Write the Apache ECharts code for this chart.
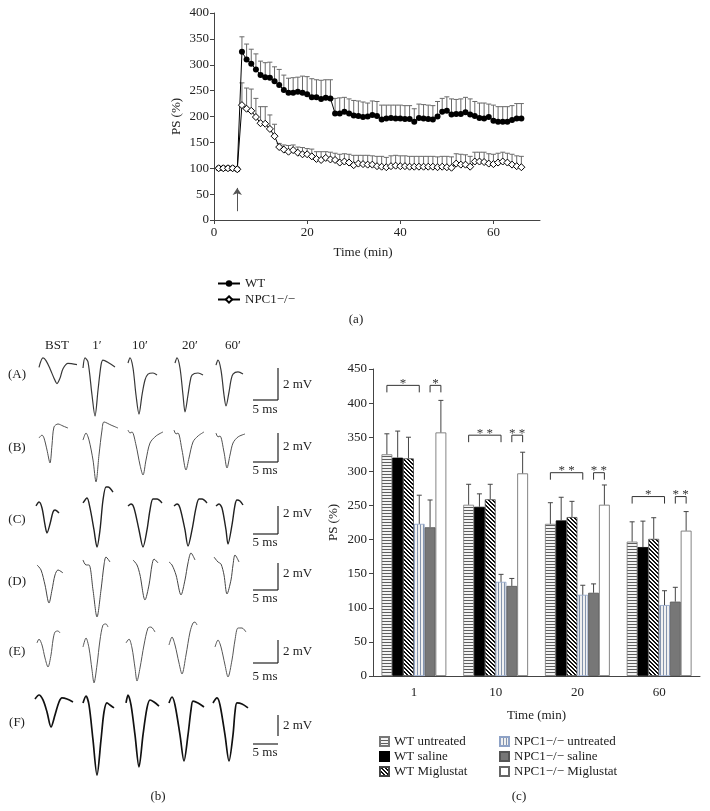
<!DOCTYPE html>
<html>
<head>
<meta charset="utf-8">
<title>PS recordings</title>
<script src="https://cdn.jsdelivr.net/npm/echarts@6/dist/echarts.min.js"></script>
<style>
  html, body { margin: 0; padding: 0; background: #fff; }
  #chart { width: 710px; height: 811px; }
</style>
</head>
<body>
<div id="chart"></div>
<script>
  // ---- (a) time course ----
  var timeMin = [1,2,3,4,5,6,7,8,9,10,11,12,13,14,15,16,17,18,19,20,21,22,23,24,25,26,27,28,29,30,31,32,33,
    34,35,36,37,38,39,40,41,42,43,44,45,46,47,48,49,50,51,52,53,54,55,56,57,58,59,60,61,62,63,64,65,66];
  var wtMean = [100,100,100,100,98,325,310,302,291,280,276,275,268,261,251,246,246,248,246,243,237,237,234,236,235,
    206,206,209,206,202,201,199,200,203,201,194,196,197,196,196,195,195,190,197,196,195,194,200,209,211,204,205,205,
    208,204,201,197,196,199,192,190,190,190,193,196,196];
  var wtErrTop = [null,null,null,null,null,354,340,330,321,307,304,305,296,291,280,274,275,276,278,277,273,271,270,271,271,
    235,236,237,234,231,230,228,226,230,229,222,222,222,222,222,221,221,215,224,223,222,221,229,235,238,234,233,234,
    237,234,229,226,226,224,222,219,219,219,221,225,225];
  var npcMean = [100,100,100,100,98,222,215,211,199,187,186,176,162,141,136,132,135,130,127,127,123,118,116,120,117,
    116,111,113,111,106,109,108,107,107,104,103,102,104,105,104,104,103,103,103,103,103,103,102,103,102,101,109,107,
    107,103,113,113,112,109,108,111,113,111,107,104,102];
  var npcErrTop = [null,null,null,null,null,265,255,253,235,219,219,203,185,148,145,144,145,141,140,138,137,132,132,132,131,
    129,127,128,127,125,125,125,125,124,123,123,121,124,125,124,124,123,123,123,123,123,123,122,123,123,122,128,127,
    126,123,131,131,131,128,127,129,131,129,127,124,123];
  var stimTime = 5;

  // ---- (c) bar chart ----
  var barCats = ['1', '10', '20', '60'];
  var barNames = ['WT untreated', 'WT saline', 'WT Miglustat',
    'NPC1\u2212/\u2212 untreated', 'NPC1\u2212/\u2212 saline', 'NPC1\u2212/\u2212 Miglustat'];
  var wtUntreated = [325, 251, 223, 197];
  var wtSaline = [320, 248, 228, 189];
  var wtMiglustat = [319, 259, 233, 201];
  var npcUntreated = [223, 138, 119, 104];
  var npcSaline = [218, 132, 122, 109];
  var npcMiglustat = [357, 297, 251, 213];
  var wtUntreatedSem = [30, 30, 31, 29];
  var wtSalineSem = [39, 19, 34, 38];
  var wtMiglustatSem = [31, 22, 23, 31];
  var npcUntreatedSem = [42, 11, 14, 21];
  var npcSalineSem = [40, 11, 13, 21];
  var npcMiglustatSem = [47, 31, 29, 28];
  // [category, bar from, bar to, level]
  var sigBrackets = [[0,0,3,426],[0,4,5,426],[1,0,3,353],[1,4,5,353],[2,0,3,298],[2,4,5,298],[3,0,3,263],[3,4,5,263]];
  var sigLabels = ['*', '*', '* *', '* *', '* *', '* *', '*', '* *'];

  // ---- (b) field potential traces, [ms, mV] ----
  var traceCols = ['BST', '1\u2032', '10\u2032', '20\u2032', '60\u2032'];
  var traceRows = ['(A)', '(B)', '(C)', '(D)', '(E)', '(F)'];
  var traceA = [
    [[0.8,-0.1],[1.6,0.6],[2.2,0.4],[3.0,-0.2],[3.8,-0.9],[4.4,-1.3],[5.0,-0.9],[5.6,-0.2],[6.6,0.2],[8.4,0.1]],
    [[0,-0.15],[0.4,0.6],[1.0,0.3],[1.8,-2.15],[2.4,-3.7],[3.0,-1.8],[3.6,0.07],[4.0,0.44],[5.2,0.22],[6.4,-0.07]],
    [[0.4,0.22],[0.8,0.6],[1.4,-0.15],[2.0,-2.15],[2.6,-3.56],[3.2,-2.15],[3.8,-1.04],[4.4,-0.6],[5.4,-0.52],[6.2,-0.67]],
    [[1.2,0.22],[1.6,0.6],[2.2,-0.15],[2.8,-2.15],[3.2,-3.4],[3.8,-2.15],[4.2,-1.2],[4.6,-0.67],[5.8,-0.52],[6.8,-0.67]],
    [[0.6,0.07],[1.0,0.44],[1.6,-0.3],[2.2,-2.15],[2.6,-2.96],[3.2,-1.93],[3.6,-1.04],[4.0,-0.6],[5.0,-0.44],[6.0,-0.6]]
  ];
  var traceB = [
    [[0.8,-0.15],[1.4,0.07],[1.8,-0.15],[2.4,-1.04],[3.0,-2.0],[3.4,-0.67],[3.8,0.67],[4.6,0.89],[5.6,0.74],[6.6,0.59]],
    [[0,-0.3],[0.6,0.22],[1.2,-0.3],[2.0,-1.78],[2.6,-3.4],[3.2,-1.4],[3.8,0.44],[4.2,1.04],[5.6,0.81],[7.0,0.59]],
    [[0.4,0.44],[0.8,0.22],[1.2,0.3],[2.0,-0.67],[2.8,-2.15],[3.4,-2.89],[4.0,-1.78],[4.8,-0.52],[6.0,0],[7.4,0.3]],
    [[1.0,0.44],[1.4,0.15],[1.8,0.22],[2.6,-1.04],[3.4,-2.52],[4.0,-1.63],[4.8,-0.44],[5.8,0],[7.0,0.3]],
    [[0.6,0.22],[1.0,-0.07],[1.4,0],[2.2,-1.19],[2.8,-2.37],[3.4,-1.41],[4.0,-0.52],[5.0,-0.07],[6.4,0.15]]
  ];
  var traceC = [
    [[0.2,-0.07],[0.8,0.22],[1.4,-0.22],[2.0,-1.48],[2.4,-2.07],[3.0,-1.41],[3.6,-0.52],[4.0,-0.37],[4.8,-0.59]],
    [[0,0.15],[0.8,0.52],[1.4,-0.22],[2.2,-1.85],[2.8,-3.11],[3.4,-1.85],[4.0,0.37],[4.6,1.33],[5.0,1.33],[6.0,0.96]],
    [[0.4,-0.07],[1.0,0.07],[1.6,-0.22],[2.6,-1.85],[3.4,-3.11],[4.2,-1.85],[4.8,-0.37],[5.4,0.44],[6.2,0.44],[7.2,0.15]],
    [[1.0,-0.07],[1.6,0.07],[2.2,-0.22],[3.2,-1.85],[3.8,-3.04],[4.6,-1.85],[5.4,-0.22],[6.0,0.44],[6.6,0.44],[7.6,0.15]],
    [[0.6,-0.07],[1.2,0.07],[1.8,-0.22],[2.6,-1.85],[3.0,-2.89],[3.8,-1.48],[4.4,0],[4.8,0.37],[5.4,0.3],[6.0,0]]
  ];
  var traceD = [
    [[0.4,-0.22],[1.2,-0.59],[2.0,-1.7],[2.8,-3.04],[3.4,-2.07],[4.0,-0.96],[4.6,-0.59],[5.6,-0.81]],
    [[0,0.15],[0.6,-0.22],[1.2,-0.22],[2.0,-2.07],[2.8,-4.07],[3.6,-2.07],[4.2,-0.22],[4.6,0.37],[5.4,0]],
    [[1.4,0.15],[2.2,-0.22],[2.8,-0.96],[3.8,-2.81],[4.6,-1.7],[5.2,-0.22],[5.6,0.22],[6.4,-0.07]],
    [[0,0],[0.6,-0.22],[1.4,-0.96],[2.4,-2.44],[3.2,-1.33],[3.8,-0.07],[4.4,0.67],[5.2,0.15]],
    [[0.2,0.37],[1.0,0],[1.6,-0.15],[2.2,-0.96],[2.8,-2.37],[3.6,-1.33],[4.0,-0.22],[4.4,0.52],[5.2,0]]
  ];
  var traceE = [
    [[0.4,0.15],[0.8,0.44],[1.4,0],[2.0,-0.96],[2.6,-1.63],[3.2,-0.74],[3.6,0.37],[4.0,0.96],[4.6,1.04],[5.0,0.89]],
    [[0,-0.15],[0.6,0.52],[1.2,-0.22],[1.8,-1.85],[2.2,-2.81],[2.8,-1.48],[3.4,0.37],[4.0,1.48],[4.6,1.56],[5.0,1.33]],
    [[0,0.15],[0.6,0.44],[1.2,-0.22],[1.8,-1.7],[2.2,-2.67],[2.8,-1.7],[3.6,0],[4.4,1.26],[5.0,1.33],[5.8,0.96]],
    [[0,0],[0.6,0.59],[1.2,0],[2.0,-1.33],[2.6,-2.15],[3.4,-0.74],[4.2,0.96],[4.8,1.63],[5.2,1.7],[5.6,1.48]],
    [[0.4,-0.15],[1.0,0.37],[1.6,-0.15],[2.4,-1.48],[3.0,-2.37],[3.8,-1.11],[4.4,0.37],[5.0,1.26],[5.8,1.26],[6.6,0.96]]
  ];
  var traceF = [
    [[0,0.22],[0.8,0.52],[1.6,0.15],[2.4,-0.74],[3.2,-1.85],[4.0,-0.96],[4.8,0],[5.4,0.3],[6.4,0.22],[7.6,0]],
    [[0,-0.07],[0.6,0.44],[1.2,-0.22],[2.0,-2.81],[2.8,-5.41],[3.6,-2.81],[4.2,-0.74],[4.8,-0.07],[5.4,-0.22],[6.2,-0.44]],
    [[0,-0.07],[0.4,0.52],[1.0,-0.22],[1.8,-2.44],[2.6,-4.81],[3.4,-2.44],[4.2,-0.44],[4.8,0.15],[5.6,0],[6.6,-0.3]],
    [[0,-0.07],[0.6,0.37],[1.2,-0.22],[2.2,-2.44],[3.0,-4.37],[3.8,-2.44],[4.4,-0.59],[4.8,0.07],[5.8,-0.07],[7.0,-0.37]],
    [[0,-0.07],[0.8,0.3],[1.4,-0.22],[2.4,-2.44],[3.2,-4.37],[4.0,-2.44],[4.4,-0.74],[4.8,-0.07],[5.8,-0.15],[7.0,-0.44]]
  ];
  var traces = [traceA, traceB, traceC, traceD, traceE, traceF];

  // layout of panel (b)
  var traceColX = [35, 83, 126, 169, 213];
  var traceRowY = [366, 436, 505, 562, 645, 702];
  var traceStroke = [['#383838', 1.2], ['#505050', 1.0], ['#222', 1.4], ['#444', 1.0], ['#555', 1.0], ['#111', 1.7]];
  var rowLabelY = [375, 448, 520, 582, 652, 723];
  var scaleVTop = [368, 433, 506, 563, 640, 715];
  var scaleVBottom = [400, 462, 534, 590, 663, 736];
  var scaleHY = [400, 462, 534, 590, 663, 744];
  var mvLabelY = [385, 447, 514, 574, 652, 726];
  var msLabelY = [410, 471, 543, 599, 677, 753];

  var FONT = '"Liberation Serif", "DejaVu Serif", serif';
  var TXT = '#222';
  var BAR_W = 10.8;

  function pattern(kind) {
    var c = document.createElement('canvas');
    var g = c.getContext('2d');
    if (kind === 'h') {
      c.width = 4; c.height = 3;
      g.fillStyle = '#f4f4f4'; g.fillRect(0, 0, 4, 3);
      g.fillStyle = '#5e5e5e'; g.fillRect(0, 0, 4, 1);
    } else if (kind === 'v') {
      c.width = 3; c.height = 4;
      g.fillStyle = '#f0f0f0'; g.fillRect(0, 0, 3, 4);
      g.fillStyle = '#8494ad'; g.fillRect(0, 0, 1, 4);
    } else {
      c.width = 4; c.height = 4;
      g.fillStyle = '#fff'; g.fillRect(0, 0, 4, 4);
      g.fillStyle = '#111';
      for (var i = 0; i < 4; i++) {
        g.fillRect(i, i, 1, 1);
        g.fillRect((i + 1) % 4, i, 1, 1);
      }
    }
    return { image: c, repeat: 'repeat' };
  }

  var barValues = [wtUntreated, wtSaline, wtMiglustat, npcUntreated, npcSaline, npcMiglustat];
  var barSems = [wtUntreatedSem, wtSalineSem, wtMiglustatSem, npcUntreatedSem, npcSalineSem, npcMiglustatSem];
  var barStyles = [
    { color: pattern('h'), borderColor: '#777', borderWidth: 0.8 },
    { color: '#000', borderColor: '#000', borderWidth: 0.8 },
    { color: pattern('d'), borderColor: '#444', borderWidth: 0.8 },
    { color: pattern('v'), borderColor: '#8ea2c6', borderWidth: 0.8 },
    { color: '#777', borderColor: '#555', borderWidth: 0.8 },
    { color: '#fff', borderColor: '#666', borderWidth: 0.8 }
  ];

  var grids = [
    { left: 214, top: 13, width: 326, height: 207 },
    { left: 373, top: 369, width: 327, height: 307 }
  ];
  var axisLine = { lineStyle: { color: '#444', width: 1 } };
  var axisTick = { length: 4, lineStyle: { color: '#444' } };
  var axisLabel = { fontSize: 13, fontFamily: FONT, color: TXT };
  var nameStyle = { fontSize: 13, fontFamily: FONT, color: TXT };
  var xAxes = [
    { gridIndex: 0, type: 'value', min: 0, max: 70, interval: 20, axisLine: axisLine, axisTick: axisTick,
      axisLabel: Object.assign({ margin: 6, showMaxLabel: false }, axisLabel), splitLine: { show: false },
      name: 'Time (min)', nameLocation: 'middle', nameGap: 26,
      nameTextStyle: Object.assign({ padding: [0, 28, 0, 0] }, nameStyle) },
    { gridIndex: 1, type: 'category', data: barCats, axisLine: axisLine, axisTick: axisTick,
      axisLabel: Object.assign({ margin: 10 }, axisLabel),
      name: 'Time (min)', nameLocation: 'middle', nameGap: 33, nameTextStyle: nameStyle }
  ];
  var yAxes = [
    { gridIndex: 0, type: 'value', min: 0, max: 400, interval: 50, axisLine: { show: true, lineStyle: axisLine.lineStyle },
      axisTick: { show: true, length: 4, lineStyle: { color: '#444' } }, axisLabel: Object.assign({ margin: 5 }, axisLabel),
      splitLine: { show: false }, name: 'PS (%)', nameLocation: 'middle', nameGap: 31, nameTextStyle: nameStyle },
    { gridIndex: 1, type: 'value', min: 0, max: 450, interval: 50, axisLine: { show: true, lineStyle: axisLine.lineStyle },
      axisTick: { show: true, length: 4, lineStyle: { color: '#444' } }, axisLabel: Object.assign({ margin: 6 }, axisLabel),
      splitLine: { show: false }, name: 'PS (%)', nameLocation: 'middle', nameGap: 33, nameTextStyle: nameStyle }
  ];

  function errRenderer(color) {
    return function (params, api) {
      var p0 = api.coord([api.value(0), api.value(1)]);
      var p1 = api.coord([api.value(0), api.value(2)]);
      var st = { stroke: color, lineWidth: 1 };
      return { type: 'group', children: [
        { type: 'line', shape: { x1: p0[0], y1: p0[1], x2: p1[0], y2: p1[1] }, style: st },
        { type: 'line', shape: { x1: p1[0] - 2.5, y1: p1[1], x2: p1[0] + 2.5, y2: p1[1] }, style: st }
      ] };
    };
  }
  function errData(mean, top) {
    var out = [];
    timeMin.forEach(function (t, i) {
      if (top[i] != null) out.push([t, mean[i], top[i]]);
    });
    return out;
  }

  var series = [
    { name: 'wtErr', type: 'custom', xAxisIndex: 0, yAxisIndex: 0, data: errData(wtMean, wtErrTop),
      encode: { x: 0, y: [1, 2] }, renderItem: errRenderer('#6a6a6a'), z: 1, silent: true },
    { name: 'npcErr', type: 'custom', xAxisIndex: 0, yAxisIndex: 0, data: errData(npcMean, npcErrTop),
      encode: { x: 0, y: [1, 2] }, renderItem: errRenderer('#6a6a6a'), z: 1, silent: true },
    { name: 'WT', type: 'line', xAxisIndex: 0, yAxisIndex: 0,
      data: timeMin.map(function (t, i) { return [t, wtMean[i]]; }),
      symbol: 'circle', symbolSize: 6, itemStyle: { color: '#000' }, lineStyle: { color: '#000', width: 1 }, z: 3 },
    { name: 'NPC1\u2212/\u2212', type: 'line', xAxisIndex: 0, yAxisIndex: 0,
      data: timeMin.map(function (t, i) { return [t, npcMean[i]]; }),
      symbol: 'diamond', symbolSize: 7, itemStyle: { color: '#fff', borderColor: '#000', borderWidth: 1 },
      lineStyle: { color: '#000', width: 1 }, z: 4,
      markLine: { silent: true, symbol: ['none', 'arrow'], symbolSize: 7, label: { show: false },
        lineStyle: { color: '#555', type: 'solid', width: 1 },
        data: [[{ coord: [stimTime, 17] }, { coord: [stimTime, 62] }]] } }
  ];

  barNames.forEach(function (name, s) {
    series.push({ name: name, type: 'bar', xAxisIndex: 1, yAxisIndex: 1, data: barValues[s],
      barWidth: BAR_W, barGap: '0%', itemStyle: barStyles[s], z: 2 });
  });

  var barErrData = [];
  barValues.forEach(function (vals, s) {
    vals.forEach(function (v, c) { barErrData.push([c, s, v, barSems[s][c]]); });
  });
  series.push({ name: 'barErr', type: 'custom', xAxisIndex: 1, yAxisIndex: 1, data: barErrData, silent: true,
    encode: { x: 0, y: 2 }, z: 3,
    renderItem: function (params, api) {
      var off = (api.value(1) - 2.5) * BAR_W;
      var p0 = api.coord([api.value(0), api.value(2)]);
      var p1 = api.coord([api.value(0), api.value(2) + api.value(3)]);
      var x = p0[0] + off;
      var st = { stroke: '#444', lineWidth: 1 };
      return { type: 'group', children: [
        { type: 'line', shape: { x1: x, y1: p0[1], x2: x, y2: p1[1] }, style: st },
        { type: 'line', shape: { x1: x - 2.5, y1: p1[1], x2: x + 2.5, y2: p1[1] }, style: st }
      ] };
    } });

  series.push({ name: 'sig', type: 'custom', xAxisIndex: 1, yAxisIndex: 1, data: sigBrackets, silent: true,
    encode: { x: 0, y: 3 }, z: 4,
    renderItem: function (params, api) {
      var p = api.coord([api.value(0), api.value(3)]);
      var x1 = p[0] + (api.value(1) - 2.5) * BAR_W;
      var x2 = p[0] + (api.value(2) - 2.5) * BAR_W;
      var y = p[1];
      return { type: 'group', children: [
        { type: 'polyline', shape: { points: [[x1, y + 7], [x1, y], [x2, y], [x2, y + 7]] },
          style: { stroke: '#333', lineWidth: 1, fill: null } },
        { type: 'text', x: (x1 + x2) / 2, y: y - 2,
          style: { text: sigLabels[params.dataIndex], fill: '#333', fontSize: 13, fontFamily: FONT,
            align: 'center', verticalAlign: 'middle', textAlign: 'center', textVerticalAlign: 'middle' } }
      ] };
    } });

  // trace grids
  traces.forEach(function (row, r) {
    row.forEach(function (pts, k) {
      var gi = grids.length;
      grids.push({ left: traceColX[k], top: traceRowY[r] - 27, width: 50, height: 108 });
      xAxes.push({ gridIndex: gi, type: 'value', min: 0, max: 10, show: false });
      yAxes.push({ gridIndex: gi, type: 'value', min: -6, max: 2, show: false });
      series.push({ name: 'trace' + r + k, type: 'line', xAxisIndex: gi, yAxisIndex: gi, data: pts,
        showSymbol: false, smooth: 0.3, silent: true,
        lineStyle: { color: traceStroke[r][0], width: traceStroke[r][1] } });
    });
  });

  function label(text, x, y, align) {
    return { type: 'text', x: x, y: y, silent: true,
      style: { text: text, fill: TXT, fontSize: 13, fontFamily: FONT,
        align: align || 'center', verticalAlign: 'middle', textAlign: align || 'center', textVerticalAlign: 'middle' } };
  }
  function seg(x1, y1, x2, y2) {
    return { type: 'line', silent: true, shape: { x1: x1, y1: y1, x2: x2, y2: y2 },
      style: { stroke: '#222', lineWidth: 1.2 } };
  }

  var graphics = [label('(a)', 356, 320), label('(b)', 158, 797), label('(c)', 519, 797)];
  var headerX = [57, 97, 140, 190, 233];
  traceCols.forEach(function (t, k) { graphics.push(label(t, headerX[k], 346)); });
  traceRows.forEach(function (t, r) {
    graphics.push(label(t, 17, rowLabelY[r]));
    graphics.push(seg(278, scaleVTop[r], 278, scaleVBottom[r]));
    graphics.push(seg(253, scaleHY[r], 278, scaleHY[r]));
    graphics.push(label('2 mV', 283, mvLabelY[r], 'left'));
    graphics.push(label('5 ms', 265, msLabelY[r]));
  });

  var legendText = { fontSize: 13, fontFamily: FONT, color: TXT };
  var option = {
    animation: false,
    textStyle: { fontFamily: FONT },
    grid: grids,
    xAxis: xAxes,
    yAxis: yAxes,
    legend: [
      { data: ['WT', 'NPC1\u2212/\u2212'], left: 212, top: 272, orient: 'vertical', itemWidth: 22, itemHeight: 8,
        itemGap: 3, textStyle: legendText, selectedMode: false },
      { data: barNames.slice(0, 3), left: 374, top: 730, orient: 'vertical', itemWidth: 9, itemHeight: 9,
        itemGap: 2, icon: 'rect', textStyle: legendText, selectedMode: false },
      { data: barNames.slice(3), left: 494, top: 730, orient: 'vertical', itemWidth: 9, itemHeight: 9,
        itemGap: 2, icon: 'rect', textStyle: legendText, selectedMode: false }
    ],
    series: series,
    graphic: graphics
  };

  var chart = echarts.init(document.getElementById('chart'));
  chart.setOption(option);
</script>
</body>
</html>
